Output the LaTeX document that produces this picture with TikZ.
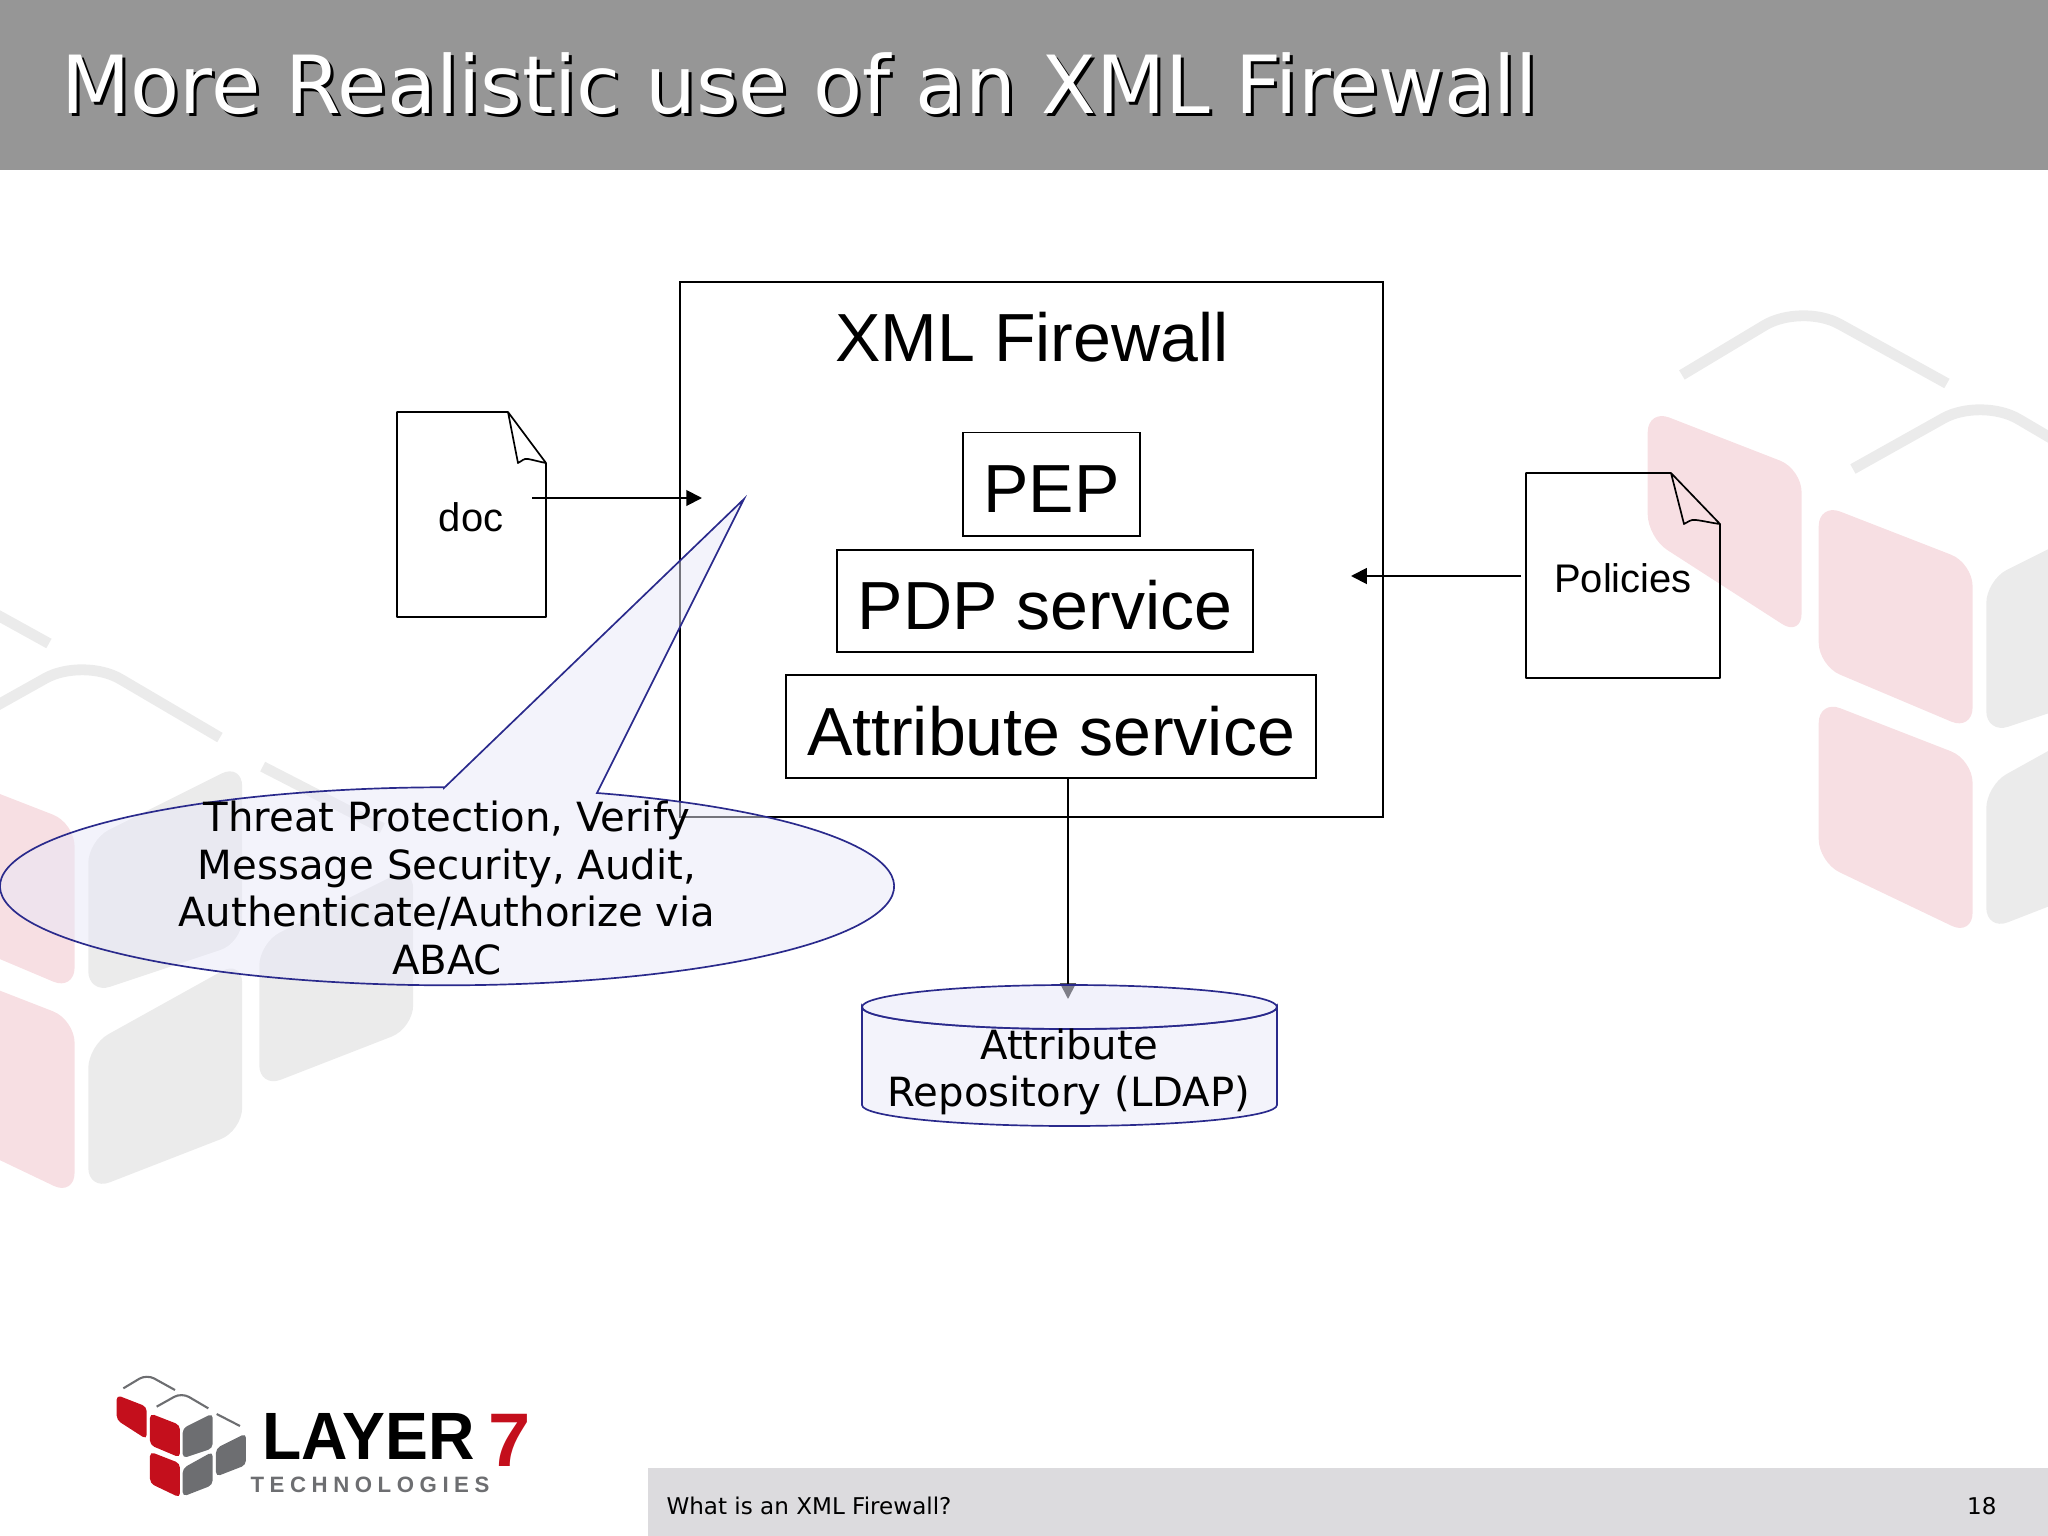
\documentclass[tikz,border=0pt]{standalone}
\usepackage{fontspec}
\setmainfont{Liberation Sans}
\newfontfamily\verdfont{DejaVu Sans}
\usetikzlibrary{arrows.meta}
\definecolor{titlegray}{HTML}{969696}
\definecolor{footgray}{HTML}{DCDBDE}
\definecolor{calloutfill}{HTML}{E8E8F8}
\definecolor{calloutline}{HTML}{2A2A8C}
\definecolor{logored}{HTML}{C40F1C}
\definecolor{logogray}{HTML}{6D6E71}
\definecolor{markred}{HTML}{F7DFE3}
\definecolor{markgray}{HTML}{EBEBEB}
\tikzset{
  servicebox/.style={draw,line width=.7pt,inner sep=0pt,text height=20.6pt,text depth=0pt,font=\fontsize{24.2}{28}\selectfont},
  sheet/.style={draw,line width=.6pt,line join=round},
  callout/.style={draw=calloutline,fill=calloutfill,fill opacity=.5,line width=.6pt},
  calltext/.style={align=center,inner sep=0pt,font=\verdfont\fontsize{14.3}{16.85}\selectfont},
  flow/.style={-{Triangle[length=5.6pt,width=5.6pt]},line width=.7pt}
}
% logo pieces, x and y as in a 3x crop of the logo
\newcommand{\cubelogo}[5]{%
\begin{scope}[shift={(#1,#2)},x=#3*0.0125cm/3,y=-#3*0.0125cm/3]
\foreach \xa/\ya/\yb/\yc/\yd in {170/165/200/298/240,270/220/255/353/315,270/335/370/473/430}
  \fill[#4,rounded corners=#3*1.6pt] (\xa,\ya)--(\xa+90,\yb)--(\xa+90,\yc)--(\xa,\yd)--cycle;
\foreach \xa/\ya/\yb/\yc/\yd in {368/265/220/325/355,368/385/335/435/470,468/325/280/375/410}
  \fill[#5,rounded corners=#3*1.6pt] (\xa,\ya)--(\xa+90,\yb)--(\xa+90,\yc)--(\xa,\yd)--cycle;
\draw[#5,line width=#3*.75pt,rounded corners=#3*3pt] (190,145)--(260,103)--(345,150);
\draw[#5,line width=#3*.75pt,rounded corners=#3*3pt] (290,200)--(365,158)--(445,205);
\draw[#5,line width=#3*.75pt] (470,222)--(540,258);
\end{scope}}
\begin{document}
\begin{tikzpicture}[x=0.0125cm,y=-0.0125cm]
\clip (0,0) rectangle (2048,1536);
% watermarks
\cubelogo{1357}{127}{5.13}{markred}{markgray}
\cubelogo{-541}{387}{5.13}{markred}{markgray}
% head and foot
\fill[titlegray] (0,0) rectangle (2048,170);
\fill[footgray] (648,1468) rectangle (2048,1536);
\node[anchor=west,inner sep=0pt,black,font=\verdfont\fontsize{28.5}{34}\selectfont] at (64,87) {More Realistic use of an XML Firewall};
\node[anchor=west,inner sep=0pt,white,font=\verdfont\fontsize{28.5}{34}\selectfont] (headline) at (61,84) {More Realistic use of an XML Firewall};
\node[anchor=west,inner sep=0pt,font=\verdfont\fontsize{8.2}{10}\selectfont] (foottext) at (666,1506) {What is an XML Firewall?};
\node[anchor=east,inner sep=0pt,font=\verdfont\fontsize{8.2}{10}\selectfont] (pageno) at (1997,1506) {18};
% firewall
\draw[line width=.7pt] (680,282) rectangle (1383,817);
\node[inner sep=0pt,font=\fontsize{24.2}{28}\selectfont] (fwlabel) at (1032,337) {XML Firewall};
\node[servicebox,minimum width=2.2125cm,minimum height=1.2875cm] (pep) at (1051.5,484) {PEP};
\node[servicebox,minimum width=5.1875cm,minimum height=1.275cm] (pdp) at (1045,601) {PDP service};
\node[servicebox,minimum width=6.625cm,minimum height=1.2875cm] (attr) at (1051,726.5) {Attribute service};
% documents
\draw[sheet] (508,412)--(397,412)--(397,617)--(546,617)--(546,463)--(508,412)--(518,463) .. controls (522,461) and (524,458) .. (528,459) .. controls (534,460) and (540,462) .. (546,463);
\node[inner sep=0pt,font=\fontsize{14.2}{17}\selectfont] (doc) at (471,517) {doc};
\draw[sheet] (1671,473)--(1526,473)--(1526,678)--(1720,678)--(1720,524)--(1671,473)--(1684,524) .. controls (1688,522) and (1691,519) .. (1696,520) .. controls (1704,521) and (1712,523) .. (1720,524);
\node[inner sep=0pt,font=\fontsize{14.2}{17}\selectfont] (policies) at (1623,578) {Policies};
% arrows
\coordinate (docout) at (532,498);
\coordinate (fwin) at (702,498);
\coordinate (polout) at (1521,576);
\coordinate (fwside) at (1351,576);
\coordinate (attrout) at (1068,778);
\coordinate (ldapin) at (1068,999);
\draw[flow] (docout)--(fwin);
\draw[flow] (polout)--(fwside);
\draw[flow] (attrout)--(ldapin);
% callout
\draw[callout] (444,788) -- (744,499) -- (597,793) arc[start angle=-70.4,end angle=269.6,x radius=447,y radius=99] -- cycle;
\node[calltext] (threats) at (447,888) {Threat Protection, Verify\\Message Security, Audit,\\Authenticate/Authorize via\\ABAC};
% repository
\draw[callout] (862,1007) -- (862,1105) arc[start angle=180,end angle=360,x radius=207.5,y radius=-21] -- (1277,1007) arc[start angle=0,end angle=-180,x radius=207.5,y radius=-22] -- cycle;
\draw[callout,fill opacity=.55] (1069.5,1007) ellipse[x radius=207.5,y radius=22];
\node[calltext] (ldap) at (1069,1072) {Attribute\\Repository (LDAP)};
% logo
\cubelogo{60}{1340}{1}{logored}{logogray}
\node[anchor=west,inner sep=0pt,font=\bfseries\fontsize{23.8}{28}\selectfont] (layer) at (262,1436) {\scalebox{.96}[1]{LAYER}};
\node[anchor=west,inner sep=0pt,text=logored,font=\bfseries\fontsize{27}{32}\selectfont] (seven) at (488,1440) {7};
\node[anchor=west,inner sep=0pt,text=logogray,font=\bfseries\fontsize{7.9}{10}\selectfont] (tech) at (250,1485) {\addfontfeature{LetterSpace=25}TECHNOLOGIES};
\end{tikzpicture}
\end{document}
